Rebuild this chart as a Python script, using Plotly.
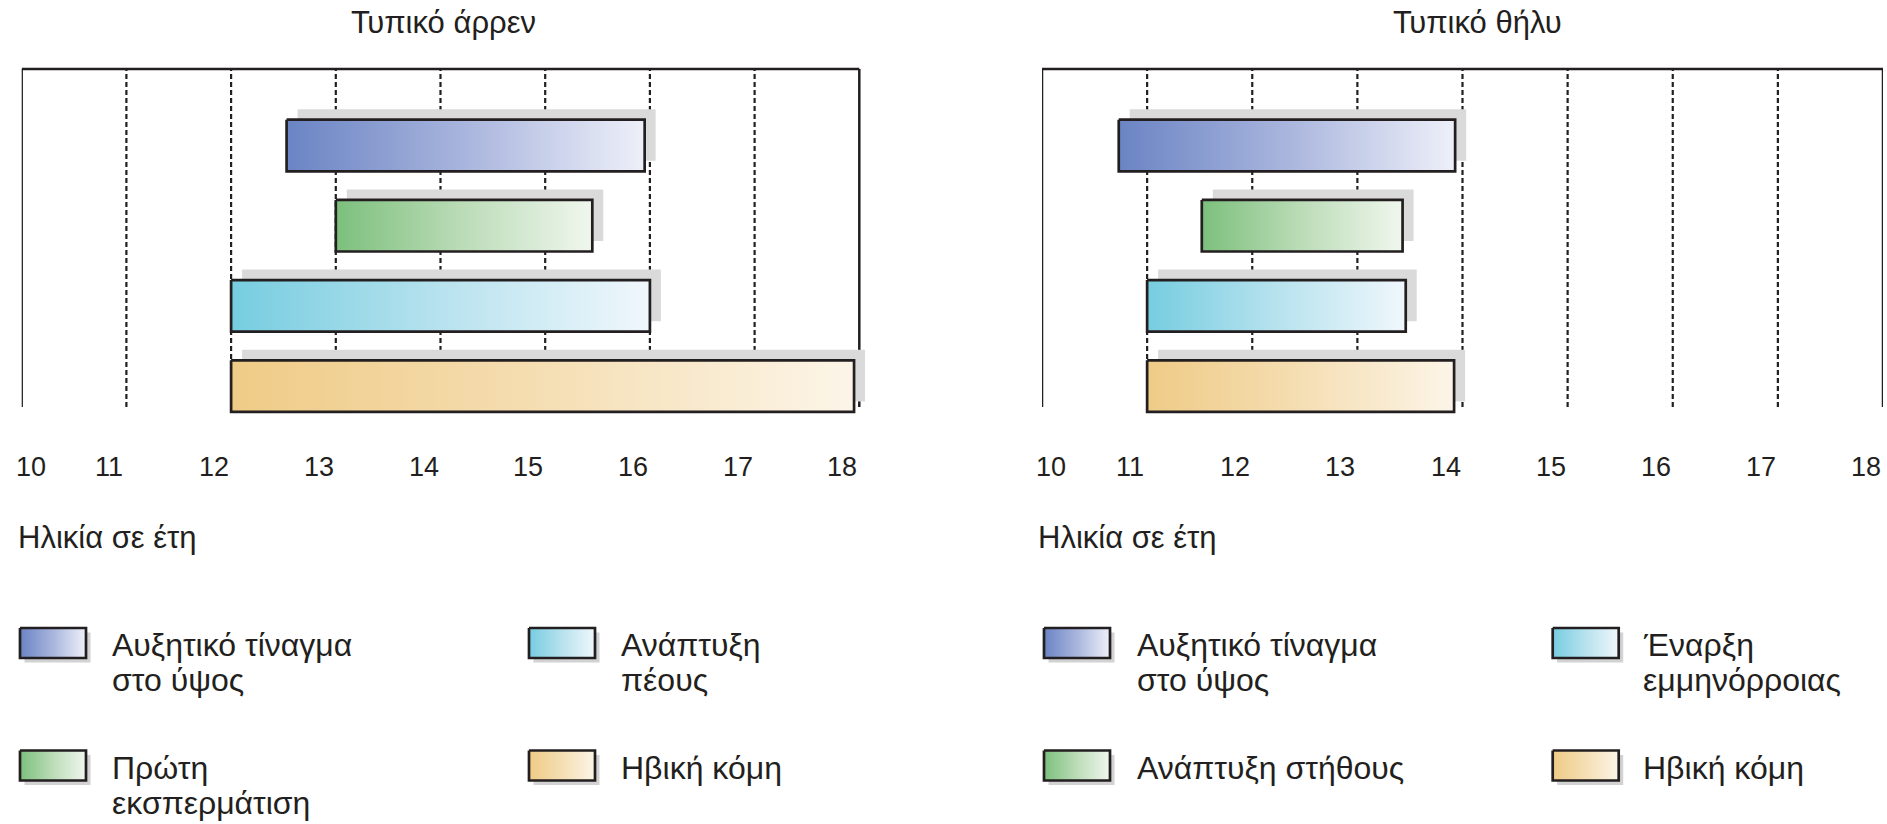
import plotly.graph_objects as go

W, H = 1887, 824

# ---------------- data ----------------
male_title = "Τυπικό άρρεν"
female_title = "Τυπικό θήλυ"
axis_title = "Ηλικία σε έτη"
tick_vals = [10, 11, 12, 13, 14, 15, 16, 17, 18]
tick_text = ["10", "11", "12", "13", "14", "15", "16", "17", "18"]

male_events = ["Αυξητικό τίναγμα στο ύψος", "Πρώτη εκσπερμάτιση", "Ανάπτυξη πέους", "Ηβική κόμη"]
male_start = [12.53, 13.0, 12.0, 12.0]
male_end = [15.95, 15.45, 16.0, 17.95]

female_events = ["Αυξητικό τίναγμα στο ύψος", "Ανάπτυξη στήθους", "Έναρξη εμμηνόρροιας", "Ηβική κόμη"]
female_start = [10.73, 11.52, 11.0, 11.0]
female_end = [13.93, 13.43, 13.46, 13.92]

male_legend = [["Αυξητικό τίναγμα", "στο ύψος"], ["Πρώτη", "εκσπερμάτιση"], ["Ανάπτυξη", "πέους"], ["Ηβική κόμη"]]
female_legend = [["Αυξητικό τίναγμα", "στο ύψος"], ["Ανάπτυξη στήθους"], ["Έναρξη", "εμμηνόρροιας"], ["Ηβική κόμη"]]

# ---------------- styles ----------------
FONT = "Liberation Sans, Arial, sans-serif"
INK = "#231f20"
SHADOW = "#dadada"
gradients = [
    [[0, "#6a84c4"], [0.5, "#a9b5dd"], [1, "#eef0f9"]],   # blue
    [[0, "#7cc07c"], [0.5, "#bcdcb8"], [1, "#f0f7ee"]],   # green
    [[0, "#76cde0"], [0.5, "#b7e2ee"], [1, "#f0f7fc"]],   # cyan
    [[0, "#efcb86"], [0.5, "#f5deb3"], [1, "#fcf5e8"]],   # tan
]

# geometry (pixels)
PLOT_TOP, PLOT_BOTTOM, FRAME_BOTTOM = 69, 415, 407
FIRST_CENTER, STEP = 145.5, 80.2
BAR_PX = 51.6
panels = [
    dict(x0=21.7, x1=859.3, extra=0.12, xa="x", ya="y", xname="xaxis", yname="yaxis",
         start=male_start, end=male_end, title=male_title, title_x=443,
         legend=male_legend, col_sw=[20, 529], col_tx=[111.7, 620.7]),
    dict(x0=1042, x1=1883, extra=0.0, xa="x2", ya="y2", xname="xaxis2", yname="yaxis2",
         start=female_start, end=female_end, title=female_title, title_x=1477,
         legend=female_legend, col_sw=[1044, 1552.7], col_tx=[1137.3, 1643]),
]

y_lo = -(FIRST_CENTER - PLOT_TOP) / STEP
y_hi = 3 + (PLOT_BOTTOM - (FIRST_CENTER + 3 * STEP)) / STEP
half = BAR_PX / 2 / STEP
frame_bot_frac = (PLOT_BOTTOM - FRAME_BOTTOM) / (PLOT_BOTTOM - PLOT_TOP)

fig = go.Figure()
shapes = []
annotations = []
layout_axes = {}

for p in panels:
    unit = (p["x1"] - p["x0"]) / (tick_vals[-1] - tick_vals[0])
    dom_x1 = p["x1"] + p["extra"] * unit
    layout_axes[p["xname"]] = dict(domain=[p["x0"] / W, dom_x1 / W],
                                   range=[tick_vals[0], tick_vals[-1] + p["extra"]],
                                   visible=False, fixedrange=True)
    layout_axes[p["yname"]] = dict(domain=[1 - PLOT_BOTTOM / H, 1 - PLOT_TOP / H],
                                   range=[y_hi, y_lo], visible=False, fixedrange=True)
    dx = 11 / unit
    dy = -10.5 / STEP
    yref_dom = p["ya"] + " domain"
    # shadows
    for i, (s, e) in enumerate(zip(p["start"], p["end"])):
        shapes.append(dict(type="rect", xref=p["xa"], yref=p["ya"], x0=s + dx, x1=e + dx,
                           y0=i - half + dy, y1=i + half + dy, fillcolor=SHADOW,
                           line=dict(width=0), layer="below"))
    # dashed grid lines
    for v in tick_vals[1:-1]:
        shapes.append(dict(type="line", xref=p["xa"], yref=yref_dom, x0=v, x1=v,
                           y0=frame_bot_frac, y1=1, line=dict(color=INK, width=2.2, dash="5px,3px"),
                           layer="below"))
    # frame: top, left, right
    shapes.append(dict(type="line", xref=p["xa"], yref=yref_dom, x0=tick_vals[0], x1=tick_vals[-1],
                       y0=1, y1=1, line=dict(color=INK, width=2.5), layer="below"))
    for v in (tick_vals[0], tick_vals[-1]):
        shapes.append(dict(type="line", xref=p["xa"], yref=yref_dom, x0=v, x1=v,
                           y0=frame_bot_frac, y1=1, line=dict(color=INK, width=2.5), layer="below"))
    # bars
    for i, (s, e) in enumerate(zip(p["start"], p["end"])):
        fig.add_trace(go.Scatter(
            x=[s, e, e, s, s], y=[i - half, i - half, i + half, i + half, i - half],
            xaxis=p["xa"], yaxis=p["ya"], mode="lines", fill="toself",
            fillgradient=dict(type="horizontal", colorscale=gradients[i]),
            line=dict(color=INK, width=2.7), hoverinfo="skip", showlegend=False))
    # tick labels
    for k, (v, t) in enumerate(zip(tick_vals, tick_text)):
        annotations.append(dict(x=v, y=467, xref=p["xa"], yref="y3", text=t, showarrow=False,
                                xanchor="center", yanchor="middle", xshift=(9 if k == 0 else -17),
                                font=dict(family=FONT, size=27, color=INK)))
    # axis title
    annotations.append(dict(x=p["x0"] - 6, y=537, xref="x3", yref="y3", text=axis_title,
                            showarrow=False, xanchor="left", yanchor="middle",
                            font=dict(family=FONT, size=31, color=INK)))
    # panel title
    annotations.append(dict(x=p["title_x"], y=22, xref="x3", yref="y3", text=p["title"],
                            showarrow=False, xanchor="center", yanchor="middle",
                            font=dict(family=FONT, size=31, color=INK)))
    # legend
    row_top = [628, 750.5]
    order = [(0, 0), (1, 0), (0, 1), (1, 1)]  # (row, col)
    for i, lines in enumerate(p["legend"]):
        r, c = order[i]
        sx0 = p["col_sw"][c]
        sx1 = sx0 + 66
        sy0 = row_top[r]
        sy1 = sy0 + 30
        shapes.append(dict(type="rect", xref="x3", yref="y3", x0=sx0 + 4.5, x1=sx1 + 4.5,
                           y0=sy0 + 4.5, y1=sy1 + 4.5, fillcolor="#d2d2d2",
                           line=dict(width=0), layer="below"))
        fig.add_trace(go.Scatter(
            x=[sx0, sx1, sx1, sx0, sx0], y=[sy0, sy0, sy1, sy1, sy0], xaxis="x3", yaxis="y3",
            mode="lines", fill="toself",
            fillgradient=dict(type="horizontal", colorscale=gradients[i]),
            line=dict(color=INK, width=2.7), hoverinfo="skip", showlegend=False))
        for j, ln in enumerate(lines):
            annotations.append(dict(x=p["col_tx"][c] - 2, y=sy1 - 13 + j * 35, xref="x3", yref="y3",
                                    text=ln, showarrow=False, xanchor="left", yanchor="middle",
                                    font=dict(family=FONT, size=32, color=INK)))

layout_axes["xaxis3"] = dict(domain=[0, 1], range=[0, W], visible=False, fixedrange=True)
layout_axes["yaxis3"] = dict(domain=[0, 1], range=[H, 0], visible=False, fixedrange=True)

fig.update_layout(
    width=W, height=H, margin=dict(l=0, r=0, t=0, b=0),
    paper_bgcolor="white", plot_bgcolor="rgba(0,0,0,0)",
    showlegend=False, shapes=shapes, annotations=annotations,
    **layout_axes,
)

fig.write_html(
    "out.html",
    config={"displayModeBar": False},
    post_script="document.body.style.margin='0';document.body.style.overflow='hidden';"
                "document.documentElement.style.overflow='hidden';",
)
